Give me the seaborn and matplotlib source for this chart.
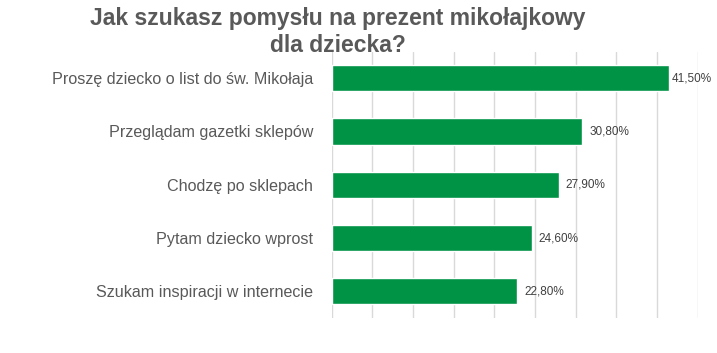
import matplotlib
matplotlib.use("Agg")
import matplotlib.pyplot as plt
import seaborn as sns
import pandas as pd

categories = [
    "Proszę dziecko o list do św. Mikołaja",
    "Przeglądam gazetki sklepów",
    "Chodzę po sklepach",
    "Pytam dziecko wprost",
    "Szukam inspiracji w internecie",
]
values = [41.5, 30.8, 27.9, 24.6, 22.8]
title_lines = ["Jak szukasz pomysłu na prezent mikołajkowy", "dla dziecka?"]

sns.set_theme(style="white")
plt.rcParams['font.family'] = ['Liberation Sans', 'DejaVu Sans']

df = pd.DataFrame({"cat": categories, "val": values})

fig = plt.figure(figsize=(7.17, 3.53), dpi=100)
ax = fig.add_axes([0.4626, 0.099, 0.973 - 0.4626, 0.755])
sns.barplot(data=df, x="val", y="cat", color="#009245", width=0.49,
            saturation=1, ax=ax, orient="h")
ax.set_xlim(0, 45)
ax.set_xticks(range(0, 50, 5))
ax.set_xticklabels([])
ax.grid(axis="x", color="#D9D9D9", linewidth=1)
ax.set_axisbelow(True)
for s in ax.spines.values():
    s.set_visible(False)
ax.tick_params(axis="both", length=0)
ax.tick_params(axis="y", pad=13.5, labelsize=11.6, labelcolor="#595959")
ax.set_xlabel("")
ax.set_ylabel("")
for i, v in enumerate(values):
    off = 1.5 if v > 40 else 5
    ax.annotate(f"{v:.2f}%".replace(".", ","), xy=(v, i), xytext=(off, 0),
                textcoords="offset points", va="center", ha="left",
                fontsize=8.5, color="#404040")
for line, yb in zip(title_lines, [1 - 25 / 353, 1 - 52 / 353]):
    fig.text(0.471, yb, line, ha="center", va="baseline", fontsize=16.5,
             fontweight="bold", color="#595959")
fig.savefig("out.png", dpi=100)
